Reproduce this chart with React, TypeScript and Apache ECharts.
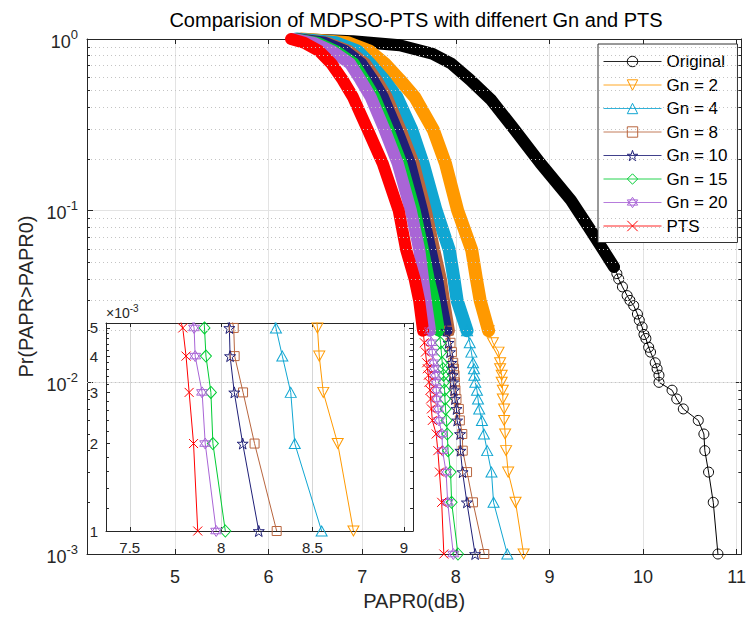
import React, { useEffect, useRef } from 'react';
import * as echarts from 'echarts';

const FONT = '"Liberation Sans", Arial, Helvetica, sans-serif';
const AXC = '#262626';

const NAMES = ['Original', 'Gn = 2', 'Gn = 4', 'Gn = 8', 'Gn = 10', 'Gn = 15', 'Gn = 20', 'PTS'];
const COLORS = ['#000000', '#FF9900', '#10A6D2', '#B8653E', '#1F1F77', '#00CC33', '#A965D6', '#FF0000'];

// dense (band) part of the CCDF curves: probability levels and PAPR0 values
const PR_BAND = [1, 0.95, 0.85, 0.72, 0.58, 0.46, 0.295, 0.188, 0.1, 0.059, 0.04, 0.03, 0.02];
const GN2_BAND = [6.35, 6.85, 7.08, 7.24, 7.4, 7.56, 7.76, 7.89, 8.02, 8.17, 8.22, 8.26, 8.35];
const GN4_BAND = [6.3, 6.72, 6.95, 7.08, 7.23, 7.37, 7.53, 7.65, 7.79, 7.93, 7.98, 8.014, 8.12];
const GN8_BAND = [6.29, 6.63, 6.86, 7.03, 7.15, 7.26, 7.41, 7.55, 7.68, 7.77, 7.84, 7.873, 7.926];
const GN10_BAND = [6.28, 6.6, 6.82, 6.99, 7.11, 7.22, 7.37, 7.51, 7.64, 7.73, 7.8, 7.837, 7.9];
const GN15_BAND = [6.27, 6.52, 6.72, 6.91, 7.02, 7.13, 7.28, 7.42, 7.56, 7.65, 7.71, 7.767, 7.82];
const GN20_BAND = [6.26, 6.48, 6.68, 6.87, 6.98, 7.09, 7.24, 7.38, 7.52, 7.61, 7.65, 7.678, 7.725];
const PTS_BAND = [6.24, 6.38, 6.54, 6.67, 6.79, 6.9, 7.06, 7.22, 7.39, 7.47, 7.56, 7.608, 7.65];

// sparse tail (individual markers)
const PR_TAIL = [0.02, 0.017, 0.015, 0.013, 0.012, 0.011, 0.01, 0.009, 0.008, 0.007, 0.006, 0.005, 0.004, 0.003, 0.002, 0.001];
const GN2_TAIL = [8.35, 8.396, 8.456, 8.473, 8.473, 8.49, 8.49, 8.502, 8.502, 8.516, 8.516, 8.527, 8.537, 8.559, 8.638, 8.724];
const GN4_TAIL = [8.12, 8.149, 8.166, 8.184, 8.194, 8.198, 8.208, 8.226, 8.237, 8.25, 8.279, 8.3, 8.335, 8.381, 8.403, 8.55];
const GN8_TAIL = [7.926, 7.943, 7.958, 7.972, 7.98, 7.986, 7.99, 7.996, 8.007, 8.032, 8.043, 8.069, 8.074, 8.12, 8.183, 8.304];
const GN10_TAIL = [7.9, 7.922, 7.937, 7.951, 7.958, 7.965, 7.972, 7.98, 7.99, 8.007, 8.014, 8.045, 8.049, 8.072, 8.118, 8.206];
const GN15_TAIL = [7.82, 7.837, 7.845, 7.855, 7.863, 7.869, 7.873, 7.88, 7.884, 7.89, 7.9, 7.909, 7.917, 7.944, 7.955, 8.023];
const GN20_TAIL = [7.725, 7.739, 7.749, 7.76, 7.767, 7.778, 7.784, 7.792, 7.795, 7.81, 7.82, 7.852, 7.858, 7.896, 7.913, 7.973];
const PTS_TAIL = [7.65, 7.664, 7.675, 7.689, 7.696, 7.707, 7.714, 7.725, 7.731, 7.739, 7.749, 7.79, 7.808, 7.825, 7.849, 7.872];

// Original (no reduction)
const ORIG_BAND_PR = [1, 0.97, 0.92, 0.82, 0.72, 0.58, 0.44, 0.3, 0.19, 0.115, 0.074, 0.047];
const ORIG_BAND_X = [6.3, 6.9, 7.4, 7.75, 7.95, 8.15, 8.38, 8.62, 8.9, 9.23, 9.46, 9.69];
const ORIG_TAIL_PR = [0.047, 0.043, 0.04, 0.036, 0.032, 0.03, 0.028, 0.025, 0.023, 0.021, 0.019, 0.018, 0.016, 0.015, 0.013, 0.012, 0.011, 0.01, 0.009, 0.008, 0.007, 0.006, 0.005, 0.004, 0.003, 0.002, 0.001];
const ORIG_TAIL_X = [9.69, 9.72, 9.74, 9.78, 9.83, 9.86, 9.9, 9.94, 9.96, 9.99, 10.01, 10.03, 10.06, 10.08, 10.13, 10.15, 10.17, 10.17, 10.31, 10.36, 10.43, 10.59, 10.65, 10.66, 10.7, 10.75, 10.8];

// axes
const X_MIN = 4.06, X_MAX = 11.05;
const Y_MIN = 0.001, Y_MAX = 1;
const IX_MIN = 7.37, IX_MAX = 9.05;
const IY_MIN = 0.001, IY_MAX = 0.0052;
const INSET_Y_TICKS = [0.001, 0.002, 0.003, 0.004, 0.005];
const MINOR_MULT = [2, 3, 4, 5, 6, 7, 8, 9];
const DECADES = [0.001, 0.01, 0.1];
const INSET_MINOR = [1.2, 1.4, 1.6, 1.8, 2.2, 2.4, 2.6, 2.8, 3.2, 3.4, 3.6, 3.8, 4.2, 4.4, 4.6, 4.8];

const SYMBOLS = [
  'circle',
  'path://M0,0 L100,0 L50,86.6 Z',
  'path://M50,0 L100,86.6 L0,86.6 Z',
  'rect',
  'path://M50,0 L61.8,35.1 L97.6,34.5 L69,56.7 L79.4,90.5 L50,70 L20.6,90.5 L31,56.7 L2.4,34.5 L38.2,35.1 Z',
  'diamond',
  'path://M50,0 L93.3,75 L6.7,75 Z M50,100 L6.7,25 L93.3,25 Z',
  'path://M0,0 L100,100 M100,0 L0,100',
];
const SYMBOL_SIZES: any[] = [10, [11, 10], [11, 10], 9, 11, [11, 12], 11, 9];

const zip = (xs: number[], ys: number[]) => xs.map((x, i) => [x, ys[i]]);

export default function App() {
  const ref = useRef<HTMLDivElement>(null);
  useEffect(() => {
    if (!ref.current) return;
    const chart = echarts.init(ref.current, null, { renderer: 'svg' });

    const bands = [
      zip(ORIG_BAND_X, ORIG_BAND_PR),
      zip(GN2_BAND, PR_BAND),
      zip(GN4_BAND, PR_BAND),
      zip(GN8_BAND, PR_BAND),
      zip(GN10_BAND, PR_BAND),
      zip(GN15_BAND, PR_BAND),
      zip(GN20_BAND, PR_BAND),
      zip(PTS_BAND, PR_BAND),
    ];
    const tails = [
      zip(ORIG_TAIL_X, ORIG_TAIL_PR),
      zip(GN2_TAIL, PR_TAIL),
      zip(GN4_TAIL, PR_TAIL),
      zip(GN8_TAIL, PR_TAIL),
      zip(GN10_TAIL, PR_TAIL),
      zip(GN15_TAIL, PR_TAIL),
      zip(GN20_TAIL, PR_TAIL),
      zip(PTS_TAIL, PR_TAIL),
    ];
    const bandWidth = [12, 13, 13, 12, 12, 12, 12, 12];

    const mainMinor: number[] = [];
    DECADES.forEach((d) => MINOR_MULT.forEach((m) => mainMinor.push(+(m * d).toPrecision(3))));
    const insetMinor = INSET_MINOR.map((v) => +(v / 1000).toPrecision(3));

    const dotted = { color: '#c4c4c4', type: [1, 3] as any, width: 1 };
    const solidGrid = { color: '#e3e3e3', width: 1 };

    const helperSeries: any[] = [
      {
        type: 'line', name: '_gridMain', xAxisIndex: 0, yAxisIndex: 0, data: [[X_MIN, Y_MAX]],
        showSymbol: false, lineStyle: { width: 0 }, silent: true, z: 1,
        markLine: {
          silent: true, symbol: ['none', 'none'], label: { show: false },
          lineStyle: dotted,
          data: mainMinor.map((v) => ({ yAxis: v })),
        },
      },
      {
        type: 'line', name: '_tickMain', xAxisIndex: 0, yAxisIndex: 0, data: [[X_MIN, Y_MAX]],
        showSymbol: false, lineStyle: { width: 0 }, silent: true, z: 3,
        markLine: {
          silent: true, symbol: ['none', 'none'], label: { show: false },
          lineStyle: { color: AXC, type: 'solid', width: 1 },
          data: [
            ...mainMinor.map((v) => [{ coord: [X_MIN, v] }, { coord: [X_MIN + 0.032, v] }]),
            ...mainMinor.map((v) => [{ coord: [X_MAX - 0.032, v] }, { coord: [X_MAX, v] }]),
          ],
        },
      },
      {
        type: 'line', name: '_gridInset', xAxisIndex: 1, yAxisIndex: 1, data: [[IX_MIN, IY_MIN]],
        showSymbol: false, lineStyle: { width: 0 }, silent: true, z: 1,
        markLine: {
          silent: true, symbol: ['none', 'none'], label: { show: false },
          data: [
            ...insetMinor.map((v) => ({ yAxis: v, lineStyle: dotted })),
            ...INSET_Y_TICKS.slice(1).map((v) => ({ yAxis: v, lineStyle: { color: '#d6d6d6', width: 1, type: 'solid' } })),
            ...insetMinor.map((v) => [{ coord: [IX_MIN, v], lineStyle: { color: AXC, width: 1, type: 'solid' } }, { coord: [IX_MIN + 0.016, v] }]),
            ...insetMinor.map((v) => [{ coord: [IX_MAX - 0.016, v], lineStyle: { color: AXC, width: 1, type: 'solid' } }, { coord: [IX_MAX, v] }]),
          ],
        },
      },
    ];

    const curveSeries: any[] = [];
    NAMES.forEach((name, i) => {
      const col = COLORS[i];
      curveSeries.push({
        type: 'line', name: '_band' + i, xAxisIndex: 0, yAxisIndex: 0,
        data: bands[i], showSymbol: false, clip: false, silent: true,
        lineStyle: { color: col, width: bandWidth[i], cap: 'round', join: 'round' },
      });
      curveSeries.push({
        type: 'line', name, xAxisIndex: 0, yAxisIndex: 0,
        data: tails[i], clip: false, color: col,
        symbol: SYMBOLS[i], symbolSize: SYMBOL_SIZES[i], showSymbol: true,
        itemStyle: { color: 'rgba(255,255,255,0)', borderColor: col, borderWidth: 1 },
        lineStyle: { color: col, width: 1 },
      });
    });
    NAMES.forEach((name, i) => {
      if (i === 0) return;
      const col = COLORS[i];
      curveSeries.push({
        type: 'line', name: '_inset' + i, xAxisIndex: 1, yAxisIndex: 1,
        data: tails[i], clip: true,
        symbol: SYMBOLS[i], symbolSize: SYMBOL_SIZES[i], showSymbol: true,
        itemStyle: { color: 'rgba(255,255,255,0)', borderColor: col, borderWidth: 1 },
        lineStyle: { color: col, width: 1 },
      });
    });

    const supLabel = (v: number) => {
      const e = Math.round(Math.log10(v));
      return `{b|10}{s|${e}}`;
    };

    const option: any = {
      animation: false,
      textStyle: { fontFamily: FONT },
      grid: [
        { left: 87, top: 39, width: 659, height: 515, show: false },
        { left: 106, top: 323, width: 307, height: 208, show: false },
      ],
      xAxis: [
        {
          type: 'value', gridIndex: 0, min: X_MIN, max: X_MAX, splitNumber: 7,
          axisLine: { show: true, onZero: false, lineStyle: { color: AXC } },
          axisTick: { show: true, inside: true, length: 5, lineStyle: { color: AXC } },
          axisLabel: { showMinLabel: false, showMaxLabel: false, fontSize: 18, color: AXC, margin: 14, fontFamily: FONT },
          splitLine: { show: true, lineStyle: solidGrid },
          name: 'PAPR0(dB)', nameLocation: 'middle', nameGap: 37,
          nameTextStyle: { fontSize: 20, color: AXC, fontFamily: FONT },
        },
        {
          type: 'value', gridIndex: 1, min: IX_MIN, max: IX_MAX, splitNumber: 3,
          axisLine: { show: true, onZero: false, lineStyle: { color: AXC } },
          axisTick: { show: true, inside: true, length: 4, lineStyle: { color: AXC } },
          axisLabel: { showMinLabel: false, showMaxLabel: false, fontSize: 15, color: AXC, margin: 9, fontFamily: FONT },
          splitLine: { show: true, lineStyle: { color: '#d6d6d6', width: 1 } },
        },
        {
          type: 'value', gridIndex: 0, position: 'top', min: X_MIN, max: X_MAX, splitNumber: 7,
          axisLine: { show: true, onZero: false, lineStyle: { color: AXC } },
          axisTick: { show: true, inside: true, length: 5, lineStyle: { color: AXC } },
          axisLabel: { show: false }, splitLine: { show: false },
        },
        {
          type: 'value', gridIndex: 1, position: 'top', min: IX_MIN, max: IX_MAX, splitNumber: 3,
          axisLine: { show: true, onZero: false, lineStyle: { color: AXC } },
          axisTick: { show: true, inside: true, length: 4, lineStyle: { color: AXC } },
          axisLabel: { show: false }, splitLine: { show: false },
        },
      ],
      yAxis: [
        {
          type: 'log', logBase: 10, gridIndex: 0, min: Y_MIN, max: Y_MAX,
          axisLine: { show: true, onZero: false, lineStyle: { color: AXC } },
          axisTick: { show: true, inside: true, length: 6, lineStyle: { color: AXC } },
          axisLabel: {
            formatter: supLabel, margin: 9, color: AXC,
            rich: {
              b: { fontSize: 18, color: AXC, fontFamily: FONT, verticalAlign: 'bottom' },
              s: { fontSize: 13, color: AXC, fontFamily: FONT, verticalAlign: 'bottom', padding: [0, 0, 10, 0] },
            },
          },
          splitLine: { show: true, lineStyle: solidGrid },
          name: 'Pr(PAPR>PAPR0)', nameLocation: 'middle', nameGap: 50,
          nameTextStyle: { fontSize: 20, color: AXC, fontFamily: FONT },
        },
        {
          type: 'log', logBase: 10, gridIndex: 1, min: IY_MIN, max: IY_MAX,
          axisLine: { show: true, onZero: false, lineStyle: { color: AXC } },
          axisTick: { show: true, inside: true, length: 4, customValues: INSET_Y_TICKS, lineStyle: { color: AXC } },
          axisLabel: {
            customValues: INSET_Y_TICKS, margin: 8, fontSize: 15, color: AXC, fontFamily: FONT,
            formatter: (v: number) => String(Math.round(v * 1000)),
          },
          splitLine: { show: false },
        },
        {
          type: 'log', logBase: 10, gridIndex: 0, position: 'right', min: Y_MIN, max: Y_MAX,
          axisLine: { show: true, onZero: false, lineStyle: { color: AXC } },
          axisTick: { show: true, inside: true, length: 6, lineStyle: { color: AXC } },
          axisLabel: { show: false }, splitLine: { show: false },
        },
        {
          type: 'log', logBase: 10, gridIndex: 1, position: 'right', min: IY_MIN, max: IY_MAX,
          axisLine: { show: true, onZero: false, lineStyle: { color: AXC } },
          axisTick: { show: true, inside: true, length: 4, customValues: INSET_Y_TICKS, lineStyle: { color: AXC } },
          axisLabel: { show: false }, splitLine: { show: false },
        },
      ],
      legend: {
        data: NAMES.map((n, i) => ({
          name: n,
          itemStyle: { color: 'rgba(255,255,255,0)', borderColor: COLORS[i], borderWidth: 1 },
          lineStyle: { color: COLORS[i], width: 1, opacity: 0.85 },
        })),
        orient: 'vertical',
        left: 598, top: 44,
        padding: [9, 10, 8, 5],
        itemWidth: 58, itemHeight: 13, itemGap: 6.5,
        backgroundColor: '#ffffff',
        borderColor: '#333333', borderWidth: 1, borderRadius: 0,
        textStyle: { fontSize: 17, color: '#000', fontFamily: FONT },
        selectedMode: false,
      },
      graphic: [
        {
          type: 'text', x: 416, y: 20, z: 100,
          style: {
            text: 'Comparision of MDPSO-PTS with diffenert Gn and PTS',
            font: `20px ${FONT}`, fill: '#000',
            align: 'center', verticalAlign: 'middle', textAlign: 'center', textVerticalAlign: 'middle',
          },
        },
        {
          type: 'text', x: 106, y: 320, z: 100,
          style: {
            text: '{a|×10}{b|-3}',
            verticalAlign: 'bottom', textVerticalAlign: 'bottom',
            rich: {
              a: { fontSize: 14, fontFamily: FONT, fill: AXC, color: AXC, verticalAlign: 'bottom' },
              b: { fontSize: 10, fontFamily: FONT, fill: AXC, color: AXC, verticalAlign: 'bottom', padding: [0, 0, 7, 0] },
            },
          },
        },
      ],
      series: [...helperSeries, ...curveSeries],
    };

    chart.setOption(option);
    return () => chart.dispose();
  }, []);

  return (
    <div
      ref={ref}
      style={{ position: 'fixed', left: 0, top: 0, width: 749, height: 617, background: '#fff' }}
    />
  );
}
